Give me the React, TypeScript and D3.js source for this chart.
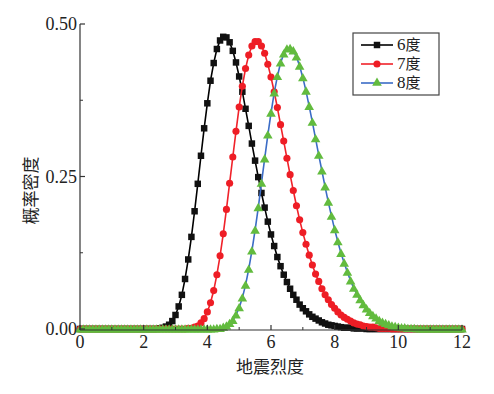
import React, { useEffect } from "react";
import * as d3 from "d3";

const width = 494;
const height = 394;
const margin = { top: 24, right: 32, bottom: 65, left: 80 };

// seismic intensity grid 0..12, step 0.1
const intensity = d3.range(0, 121).map(i => i / 10);

// probability density, one row per integer of intensity (n.0 .. n.9)
const deg6 = [
  0, 0, 0, 0, 0, 0, 0, 0, 0, 0,
  0, 0, 0, 0, 0, 0, 0, 0, 0, 0,
  0, 0, 0, 0, 0, 0.001, 0.002, 0.004, 0.007, 0.013,
  0.023, 0.037, 0.056, 0.082, 0.114, 0.151, 0.193, 0.238, 0.284, 0.329,
  0.370, 0.407, 0.436, 0.459, 0.473, 0.479, 0.478, 0.470, 0.456, 0.437,
  0.414, 0.389, 0.361, 0.333, 0.304, 0.276, 0.249, 0.223, 0.199, 0.176,
  0.155, 0.136, 0.118, 0.103, 0.089, 0.077, 0.066, 0.056, 0.048, 0.040,
  0.034, 0.029, 0.024, 0.020, 0.017, 0.014, 0.011, 0.009, 0.007, 0.006,
  0.005, 0.004, 0.003, 0.002, 0.002, 0.002, 0.001, 0.001, 0.001, 0.001,
  0, 0, 0, 0, 0, 0, 0, 0, 0, 0,
  0, 0, 0, 0, 0, 0, 0, 0, 0, 0,
  0, 0, 0, 0, 0, 0, 0, 0, 0, 0,
  0
];

const deg7 = [
  0, 0, 0, 0, 0, 0, 0, 0, 0, 0,
  0, 0, 0, 0, 0, 0, 0, 0, 0, 0,
  0, 0, 0, 0, 0, 0, 0, 0, 0, 0,
  0, 0, 0, 0, 0.001, 0.001, 0.003, 0.005, 0.010, 0.017,
  0.028, 0.043, 0.063, 0.089, 0.120, 0.156, 0.196, 0.239, 0.282, 0.324,
  0.364, 0.398, 0.427, 0.449, 0.464, 0.471, 0.471, 0.464, 0.452, 0.434,
  0.413, 0.389, 0.363, 0.335, 0.308, 0.280, 0.253, 0.227, 0.202, 0.179,
  0.158, 0.139, 0.121, 0.105, 0.090, 0.078, 0.066, 0.056, 0.048, 0.040,
  0.034, 0.028, 0.023, 0.019, 0.016, 0.013, 0.010, 0.008, 0.007, 0.005,
  0.004, 0.003, 0.003, 0.002, 0.001, 0.001, 0.001, 0.001, 0, 0,
  0, 0, 0, 0, 0, 0, 0, 0, 0, 0,
  0, 0, 0, 0, 0, 0, 0, 0, 0, 0,
  0
];

const deg8 = [
  0, 0, 0, 0, 0, 0, 0, 0, 0, 0,
  0, 0, 0, 0, 0, 0, 0, 0, 0, 0,
  0, 0, 0, 0, 0, 0, 0, 0, 0, 0,
  0, 0, 0, 0, 0, 0, 0, 0, 0, 0,
  0, 0, 0, 0.001, 0.001, 0.003, 0.005, 0.009, 0.014, 0.023,
  0.035, 0.051, 0.072, 0.098, 0.128, 0.162, 0.199, 0.239, 0.279, 0.318,
  0.354, 0.387, 0.414, 0.436, 0.451, 0.459, 0.460, 0.456, 0.446, 0.431,
  0.412, 0.390, 0.365, 0.339, 0.312, 0.285, 0.259, 0.233, 0.208, 0.185,
  0.163, 0.143, 0.124, 0.108, 0.093, 0.079, 0.067, 0.057, 0.048, 0.040,
  0.033, 0.027, 0.022, 0.018, 0.014, 0.011, 0.009, 0.007, 0.005, 0.004,
  0.003, 0.002, 0.002, 0.001, 0.001, 0.001, 0, 0, 0, 0,
  0, 0, 0, 0, 0, 0, 0, 0, 0, 0,
  0
];

const seriesNames = ["6度", "7度", "8度"];
const xTicks = [0, 2, 4, 6, 8, 10, 12];
const xMinorTicks = [1, 3, 5, 7, 9, 11];
const yTicks = [0, 0.25, 0.5];
const yMinorTicks = [0.125, 0.375];

const styles = [
  { line: "#000000", fill: "#111111", shape: d3.symbolSquare, size: 42 },
  { line: "#f0222a", fill: "#ee1d25", shape: d3.symbolCircle, size: 40 },
  { line: "#3b6cc6", fill: "#62bb3e", shape: d3.symbolTriangle, size: 40 }
];

const serif = "'Liberation Serif', 'DejaVu Serif', serif";
const cjk = "'Noto Sans CJK SC', sans-serif";

export default function App() {
  useEffect(() => {
    document.body.style.margin = "0";
  }, []);

  const x = d3.scaleLinear().domain([0, 12]).range([margin.left, width - margin.right]);
  const y = d3.scaleLinear().domain([0, 0.5]).range([height - margin.bottom, margin.top]);

  const data = [deg6, deg7, deg8].map(vals => vals.map((v, i) => [intensity[i], v]));
  const line = d3.line().x(d => x(d[0])).y(d => y(d[1]));

  const x0 = x(0);
  const y0 = y(0);

  return (
    <svg width={width} height={height} style={{ display: "block", background: "#fff" }}>
      {data.map((pts, si) => {
        const st = styles[si];
        const sym = d3.symbol().type(st.shape).size(st.size)();
        return (
          <g key={si}>
            <path d={line(pts)} fill="none" stroke={st.line} strokeWidth={1.6} />
            {pts.map((p, i) => (
              <path
                key={i}
                d={sym}
                transform={`translate(${x(p[0])},${y(p[1]) + (st.shape === d3.symbolTriangle ? 0.8 : 0)})`}
                fill={st.fill}
              />
            ))}
          </g>
        );
      })}

      {/* axes */}
      <line x1={x0} x2={x0} y1={y(0.5)} y2={y0 + 1} stroke="#333" strokeWidth={1.2} />
      <line x1={x0} x2={x(12)} y1={y0 + 1} y2={y0 + 1} stroke="#333" strokeWidth={1.2} />
      {yTicks.map(t => (
        <g key={t}>
          <line x1={x0} x2={x0 + 5} y1={y(t)} y2={y(t)} stroke="#333" strokeWidth={1.2} />
          <text x={x0 - 3} y={y(t)} dy="0.35em" textAnchor="end" fontFamily={serif} fontSize={18} fill="#222">
            {d3.format(".2f")(t)}
          </text>
        </g>
      ))}
      {yMinorTicks.map(t => (
        <line key={t} x1={x0} x2={x0 + 3} y1={y(t)} y2={y(t)} stroke="#333" strokeWidth={1} />
      ))}
      {xTicks.map(t => (
        <g key={t}>
          <line x1={x(t)} x2={x(t)} y1={y0 + 1} y2={y0 - 4} stroke="#333" strokeWidth={1.2} />
          <text x={x(t)} y={y0 + 19} textAnchor="middle" fontFamily={serif} fontSize={18} fill="#222">
            {t}
          </text>
        </g>
      ))}
      {xMinorTicks.map(t => (
        <line key={t} x1={x(t)} x2={x(t)} y1={y0 + 1} y2={y0 - 2} stroke="#333" strokeWidth={1} />
      ))}

      <text x={270} y={373} textAnchor="middle" fontFamily={cjk} fontSize={17} fill="#222">
        地震烈度
      </text>
      <text
        transform={`translate(37,${(y(0) + y(0.5)) / 2 + 14}) rotate(-90)`}
        textAnchor="middle"
        fontFamily={cjk}
        fontSize={17}
        fill="#222"
      >
        概率密度
      </text>

      {/* legend */}
      <g>
        <rect x={353} y={33} width={86} height={62} fill="#fff" stroke="#444" strokeWidth={1.2} />
        {seriesNames.map((name, i) => {
          const st = styles[i];
          const ly = 45 + i * 19;
          return (
            <g key={name}>
              <line x1={361} x2={393} y1={ly} y2={ly} stroke={st.line} strokeWidth={1.6} />
              <path d={d3.symbol().type(st.shape).size(st.size)()} transform={`translate(377,${ly})`} fill={st.fill} />
              <text x={397} y={ly} dy="0.35em" fontSize={15} fill="#222">
                <tspan fontFamily={serif} fontSize={17}>{name.slice(0, 1)}</tspan>
                <tspan fontFamily={cjk}>{name.slice(1)}</tspan>
              </text>
            </g>
          );
        })}
      </g>
    </svg>
  );
}
